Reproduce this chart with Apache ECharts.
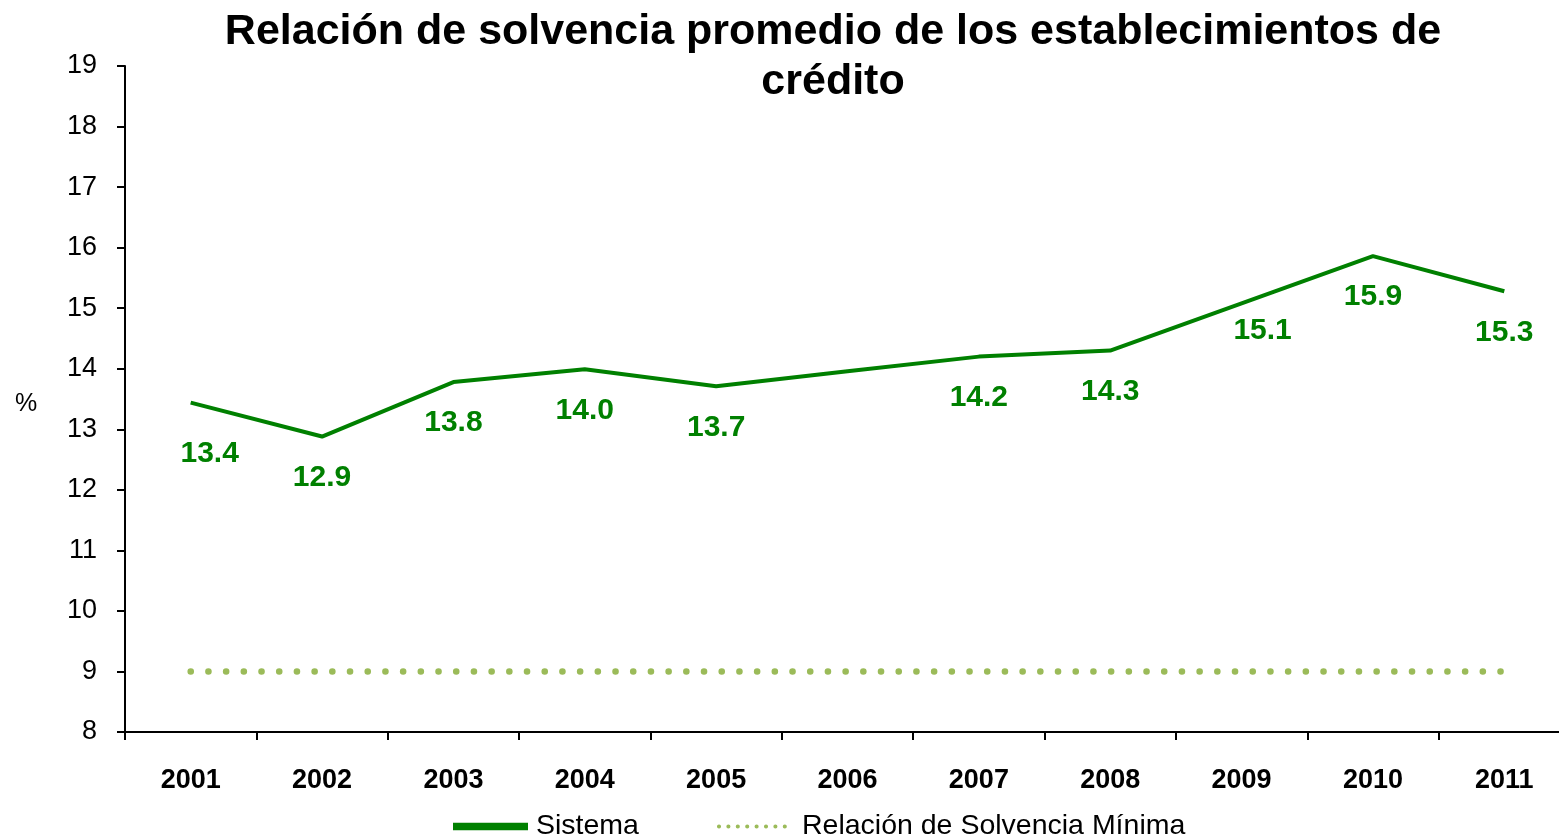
<!DOCTYPE html>
<html>
<head>
<meta charset="utf-8">
<script src="https://cdn.jsdelivr.net/npm/echarts@6/dist/echarts.min.js"></script>
<style>
html,body{margin:0;padding:0;background:#fff;overflow:hidden;width:1559px;height:836px;}
#chart{width:1570px;height:836px;}
</style>
</head>
<body>
<div id="chart"></div>
<script>
var categories = ['2001','2002','2003','2004','2005','2006','2007','2008','2009','2010','2011'];
var sistema = [13.44, 12.88, 13.78, 13.99, 13.71, 13.96, 14.2, 14.3, 15.08, 15.86, 15.28];
var minima = [9, 9, 9, 9, 9, 9, 9, 9, 9, 9, 9];
var hiddenLabels = ['2006'];
var titleText = 'Relación de solvencia promedio de los establecimientos de\ncrédito';

var FONT = '"Liberation Sans", Arial, sans-serif';
var GREEN = '#008000';
var LIGHT = '#9bbb59';
var labelOffsets = {0: [19, 10], 8: [21, -14]};

var chart = echarts.init(document.getElementById('chart'));
chart.setOption({
  animation: false,
  backgroundColor: '#fff',
  title: {
    text: titleText,
    left: 833,
    top: 7,
    padding: 0,
    textAlign: 'center',
    textStyle: {fontFamily: FONT, fontSize: 43, fontWeight: 'bold', color: '#000', lineHeight: 50}
  },
  grid: {left: 125, top: 66, right: 0, bottom: 104, containLabel: false},
  legend: {
    left: 453,
    top: 812,
    padding: 0,
    itemGap: 78,
    itemWidth: 75,
    itemHeight: 14,
    textStyle: {fontFamily: FONT, fontSize: 28.5, color: '#000', padding: [0, 0, 0, 3]},
    data: [
      {name: 'Sistema', icon: 'path://M0,0L10,0L10,1L0,1Z', itemStyle: {color: GREEN}},
      {name: 'Relación de Solvencia Mínima', itemStyle: {opacity: 0}, lineStyle: {type: [0.1, 9.3], width: 4, cap: 'round', color: LIGHT}}
    ]
  },
  xAxis: {
    type: 'category',
    data: categories,
    boundaryGap: true,
    axisLine: {lineStyle: {color: '#000', width: 2}},
    axisTick: {show: true, length: 8, lineStyle: {color: '#000', width: 2}},
    axisLabel: {margin: 35, fontFamily: FONT, fontSize: 27, fontWeight: 'bold', color: '#000'},
    splitLine: {show: false}
  },
  yAxis: {
    type: 'value',
    min: 8,
    max: 19,
    interval: 1,
    name: '%',
    nameLocation: 'middle',
    nameRotate: 0,
    nameGap: 99,
    nameTextStyle: {fontFamily: FONT, fontSize: 25, color: '#000', align: 'center', verticalAlign: 'top', lineHeight: 10},
    axisLine: {show: true, lineStyle: {color: '#000', width: 2}},
    axisTick: {show: true, length: 8, lineStyle: {color: '#000', width: 2}},
    axisLabel: {margin: 28, fontFamily: FONT, fontSize: 27, color: '#000'},
    splitLine: {show: false}
  },
  series: [
    {
      name: 'Sistema',
      type: 'line',
      symbol: 'circle',
      symbolSize: 0.1,
      showSymbol: true,
      lineStyle: {color: GREEN, width: 4},
      itemStyle: {color: GREEN},
      z: 3,
      label: {
        show: true,
        position: 'bottom',
        distance: 26,
        fontFamily: FONT,
        fontSize: 30,
        fontWeight: 'bold',
        color: GREEN,
        formatter: function (p) { return p.value.toFixed(1); }
      },
      data: sistema.map(function (v, i) {
        var item = {value: v};
        if (hiddenLabels.indexOf(categories[i]) >= 0) item.label = {show: false};
        else if (labelOffsets[i]) item.label = {offset: labelOffsets[i]};
        return item;
      })
    },
    {
      name: 'Relación de Solvencia Mínima',
      type: 'line',
      symbol: 'none',
      lineStyle: {color: LIGHT, width: 6.5, type: [0.1, 17.6], cap: 'round'},
      itemStyle: {color: LIGHT},
      data: minima
    }
  ]
});
</script>
</body>
</html>
